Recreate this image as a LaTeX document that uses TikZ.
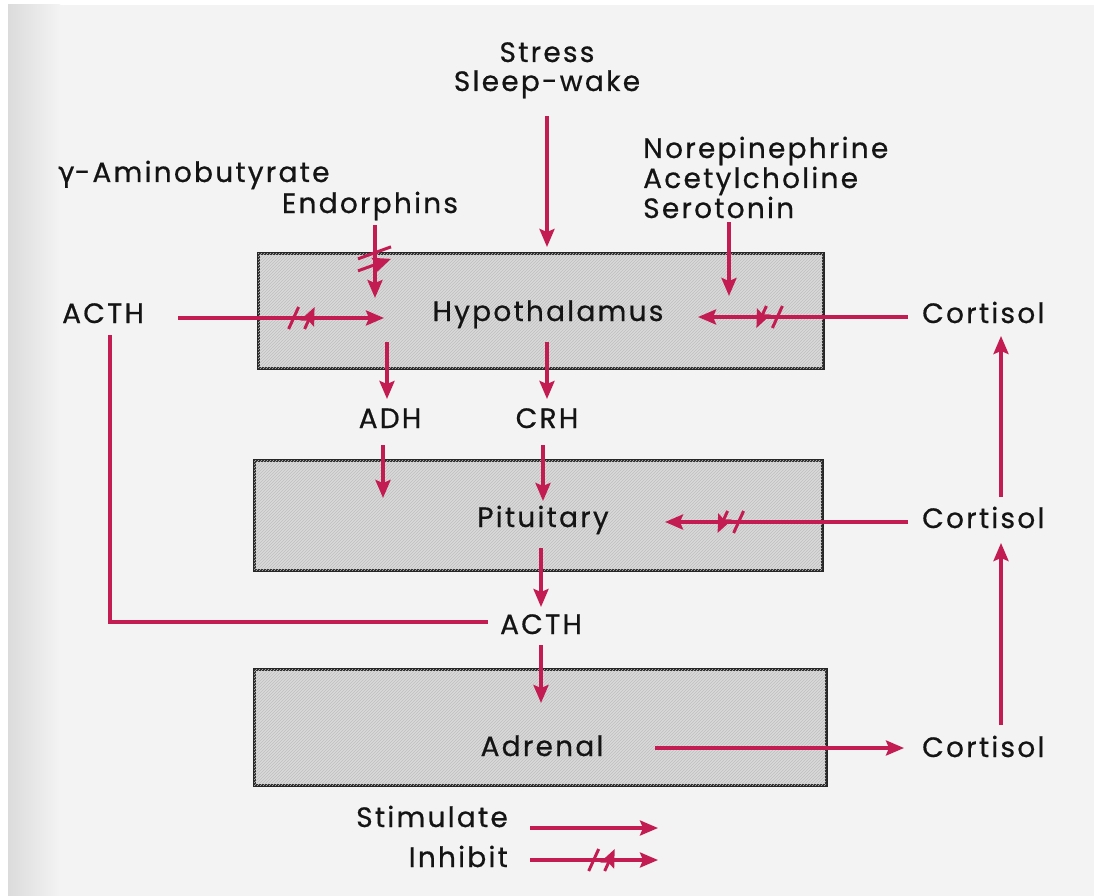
\documentclass[tikz,border=0pt]{standalone}
\usepackage{fontspec}
\setmainfont[LetterSpace=8,FakeBold=0.6]{Poppins}
\newfontfamily\grfont[FakeBold=0.6]{DejaVu Sans}
\usetikzlibrary{arrows.meta,decorations.markings,patterns}
\definecolor{arr}{RGB}{195,28,82}
\definecolor{txt}{RGB}{20,20,20}
\definecolor{page}{RGB}{243,243,243}
\definecolor{boxfill}{RGB}{218,218,218}
\tikzset{
  lbl/.style={font=\fontsize{28}{32}\selectfont, text=txt, inner sep=0pt, anchor=base},
  organ/.style={draw=black!85, line width=3pt, fill=boxfill},
  hatch/.style={pattern=north east lines, pattern color=black!25},
  stim/.style={draw=arr, line width=3.4pt, -{Stealth[length=18pt,width=15pt,inset=3pt]}},
  plain/.style={draw=arr, line width=3.4pt},
  inhib/.style={stim, postaction={decorate, decoration={markings,
     mark=at position #1 with {\draw[arr, line width=3pt] (-13pt,-11pt) -- (-3pt,11pt) (3pt,-11pt) -- (13pt,11pt);}}}},
  inhibv/.style={stim, postaction={decorate, decoration={markings,
     mark=at position #1 with {\draw[arr, line width=3pt] (1pt,-17pt) -- (-11pt,16pt) (13pt,-17pt) -- (1pt,16pt);}}}},
}
\begin{document}
\begin{tikzpicture}[x=1pt,y=-1pt]
\useasboundingbox (0,0) rectangle (1094,896);
\fill[white] (0,0) rectangle (1094,896);
\fill[page] (8,5) rectangle (1094,896);
\shade[left color=black!14, right color=page] (8,5) rectangle (60,896);

% organ boxes
\path[organ] (258,253) rectangle (823,368);
\path[hatch] (258,253) rectangle (823,368);
\path[organ] (254,460) rectangle (822,570);
\path[hatch] (254,460) rectangle (822,570);
\path[organ] (254,669) rectangle (826,785);
\path[hatch] (254,669) rectangle (826,785);

% labels
\node[lbl] (stress) at (547,62) {Stress};
\node[lbl] (sleep) at (547,91) {Sleep-wake};
\node[lbl, anchor=base west] (norepi) at (643,158) {Norepinephrine};
\node[lbl, anchor=base west] (acetyl) at (643,188) {Acetylcholine};
\node[lbl, anchor=base west] (sero) at (643,218) {Serotonin};
\node[lbl, anchor=base west] (gaba) at (58,182) {{\grfont γ}-Aminobutyrate};
\node[lbl] (endo) at (370,213) {Endorphins};
\node[lbl, anchor=base west] (acthL) at (62,323) {ACTH};
\node[lbl] (hypo) at (548,321) {Hypothalamus};
\node[lbl, anchor=base west] (cortT) at (922,323) {Cortisol};
\node[lbl] (adh) at (390,428) {ADH};
\node[lbl] (crh) at (547,428) {CRH};
\node[lbl] (pit) at (543,527) {Pituitary};
\node[lbl, anchor=base west] (cortM) at (922,528) {Cortisol};
\node[lbl] (acthM) at (541,634) {ACTH};
\node[lbl] (adr) at (542,756) {Adrenal};
\node[lbl, anchor=base west] (cortB) at (922,757) {Cortisol};
\node[lbl, anchor=base east] (stimL) at (508,827) {Stimulate};
\node[lbl, anchor=base east] (inhL) at (508,867) {Inhibit};

% coordinates for connector ends
\coordinate (stressS) at (547,116);
\coordinate (stressE) at (547,247);
\coordinate (endoS) at (375,225);
\coordinate (endoE) at (375,298);
\coordinate (noreS) at (729,222);
\coordinate (noreE) at (729,296);
\coordinate (acthLS) at (178,318);
\coordinate (acthLE) at (384,318);
\coordinate (cortTS) at (908,317);
\coordinate (cortTE) at (698,317);
\coordinate (adhS) at (387,342);
\coordinate (adhE) at (387,399);
\coordinate (crhS) at (547,342);
\coordinate (crhE) at (547,399);
\coordinate (adhP) at (383,445);
\coordinate (adhPE) at (383,498);
\coordinate (crhP) at (543,445);
\coordinate (crhPE) at (543,501);
\coordinate (cortMS) at (908,522);
\coordinate (cortME) at (665,522);
\coordinate (pitS) at (541,548);
\coordinate (pitE) at (541,607);
\coordinate (loopA) at (110,335);
\coordinate (loopB) at (110,622);
\coordinate (loopC) at (488,622);
\coordinate (acthMS) at (541,645);
\coordinate (acthME) at (541,703);
\coordinate (adrS) at (655,748);
\coordinate (adrE) at (904,748);
\coordinate (upBS) at (1001,725);
\coordinate (upBE) at (1001,543);
\coordinate (upMS) at (1001,497);
\coordinate (upME) at (1001,336);
\coordinate (stimS) at (530,828);
\coordinate (stimE) at (658,828);
\coordinate (inhS) at (530,860);
\coordinate (inhE) at (658,860);

% connectors
\draw[stim] (stressS) -- (stressE);
\draw[inhibv=0.45] (endoS) -- (endoE);
\draw[stim] (noreS) -- (noreE);
\draw[inhib=0.6] (acthLS) -- (acthLE);
\draw[inhib=0.66] (cortTS) -- (cortTE);
\draw[stim] (adhS) -- (adhE);
\draw[stim] (crhS) -- (crhE);
\draw[stim] (adhP) -- (adhPE);
\draw[stim] (crhP) -- (crhPE);
\draw[inhib=0.73] (cortMS) -- (cortME);
\draw[stim] (pitS) -- (pitE);
\draw[plain] (loopA) -- (loopB) -- (loopC);
\draw[stim] (acthMS) -- (acthME);
\draw[stim] (adrS) -- (adrE);
\draw[stim] (upBS) -- (upBE);
\draw[stim] (upMS) -- (upME);
\draw[stim] (stimS) -- (stimE);
\draw[inhib=0.56] (inhS) -- (inhE);
\end{tikzpicture}
\end{document}
